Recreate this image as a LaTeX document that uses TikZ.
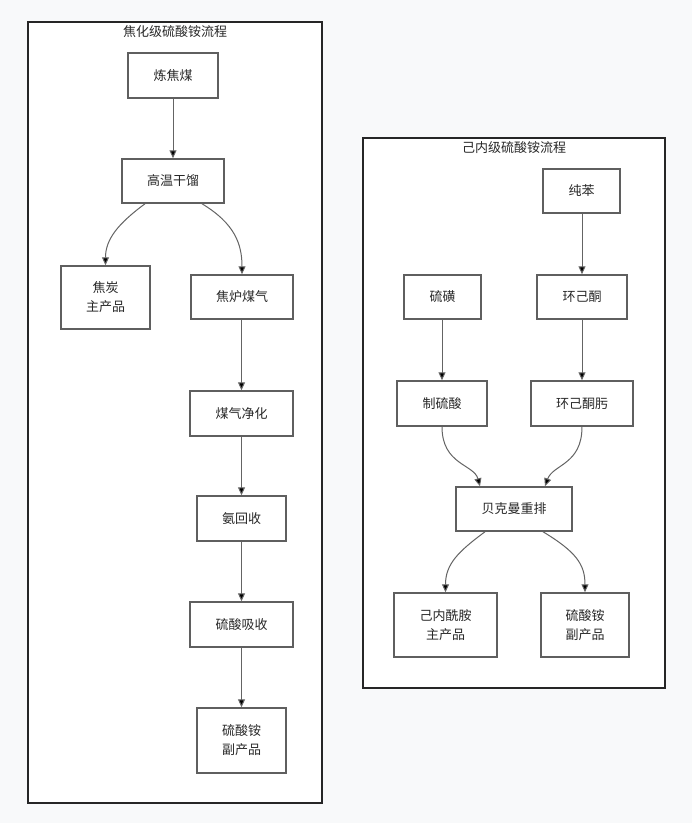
\documentclass[tikz,border=0pt]{standalone}
\usepackage{fontspec}
\setmainfont{Noto Sans CJK SC}
\usetikzlibrary{arrows.meta}
\definecolor{pagebg}{RGB}{248,249,250}
\definecolor{boxline}{RGB}{95,95,95}
\definecolor{edgeline}{RGB}{100,100,100}
\definecolor{txt}{RGB}{40,40,40}
\tikzset{
  box/.style={draw=boxline, line width=1.5pt, fill=white, inner sep=0pt, align=center,
    text=txt, font=\fontsize{13}{19}\selectfont},
  cluster/.style={draw=black!85, line width=1.5pt, fill=white},
  ctitle/.style={text=txt, font=\fontsize{13}{15}\selectfont, inner sep=0pt},
  flow/.style={draw=edgeline, line width=1pt, -{Triangle[length=8pt,width=7pt,fill=black]}},
}
\begin{document}
\begin{tikzpicture}[x=1pt,y=-1pt]
\useasboundingbox (0,0) rectangle (692,823);
\fill[pagebg] (0,0) rectangle (692,823);
% clusters
\draw[cluster] (28,22) rectangle (322,803);
\node[ctitle] (t1) at (175,32) {焦化级硫酸铵流程};
\draw[cluster] (363,138) rectangle (665,688);
\node[ctitle] (t2) at (514,148) {己内级硫酸铵流程};
% left nodes
\node[box, minimum width=90pt, minimum height=45pt] (a) at (173,75.5) {炼焦煤};
\node[box, minimum width=102pt, minimum height=44pt] (b) at (173,181) {高温干馏};
\node[box, minimum width=89pt, minimum height=63pt] (c) at (105.5,297.5) {焦炭\\主产品};
\node[box, minimum width=102pt, minimum height=44pt] (d) at (242,297) {焦炉煤气};
\node[box, minimum width=103pt, minimum height=45pt] (e) at (241.5,413.5) {煤气净化};
\node[box, minimum width=89pt, minimum height=45pt] (f) at (241.5,518.5) {氨回收};
\node[box, minimum width=103pt, minimum height=45pt] (g) at (241.5,624.5) {硫酸吸收};
\node[box, minimum width=89pt, minimum height=65pt] (h) at (241.5,740.5) {硫酸铵\\副产品};
% right nodes
\node[box, minimum width=77pt, minimum height=44pt] (p) at (581.5,191) {纯苯};
\node[box, minimum width=77pt, minimum height=44pt] (s) at (442.5,297) {硫磺};
\node[box, minimum width=90pt, minimum height=44pt] (k) at (582,297) {环己酮};
\node[box, minimum width=90pt, minimum height=45pt] (m) at (442,403.5) {制硫酸};
\node[box, minimum width=102pt, minimum height=45pt] (o) at (582,403.5) {环己酮肟};
\node[box, minimum width=116pt, minimum height=44pt] (r) at (514,509) {贝克曼重排};
\node[box, minimum width=103pt, minimum height=64pt] (l) at (445.5,625) {己内酰胺\\主产品};
\node[box, minimum width=88pt, minimum height=64pt] (q) at (585,625) {硫酸铵\\副产品};
% left edges
\draw[flow] (a.south) -- (b.north);
\draw[flow] ([xshift=-28pt]b.south) .. controls ([xshift=-55pt,yshift=-20pt]b.south) and ([yshift=26pt]c.north) .. (c.north);
\draw[flow] ([xshift=29pt]b.south) .. controls ([xshift=62pt,yshift=-20pt]b.south) and ([yshift=30pt]d.north) .. (d.north);
\draw[flow] (e.north |- d.south) -- (e.north);
\draw[flow] (e.south) -- (f.north);
\draw[flow] (f.south) -- (g.north);
\draw[flow] (g.south) -- (h.north);
% right edges
\draw[flow] (k.north |- p.south) -- (k.north);
\draw[flow] (m.north |- s.south) -- (m.north);
\draw[flow] (k.south) -- (o.north);
\draw[flow] (m.south) .. controls ([yshift=-38pt]m.south) and ([xshift=-40pt,yshift=22pt]r.north) .. ([xshift=-34pt]r.north);
\draw[flow] (o.south) .. controls ([yshift=-38pt]o.south) and ([xshift=39pt,yshift=22pt]r.north) .. ([xshift=31pt]r.north);
\draw[flow] ([xshift=-29pt]r.south) .. controls ([xshift=-56pt,yshift=-20pt]r.south) and ([yshift=28pt]l.north) .. (l.north);
\draw[flow] ([xshift=29pt]r.south) .. controls ([xshift=62pt,yshift=-20pt]r.south) and ([yshift=28pt]q.north) .. (q.north);
\end{tikzpicture}
\end{document}
